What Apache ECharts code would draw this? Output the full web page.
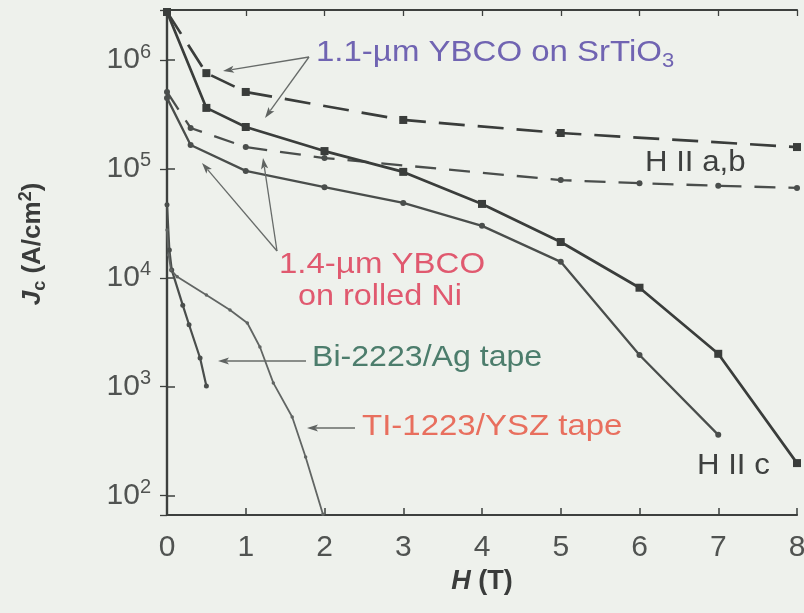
<!DOCTYPE html>
<html>
<head>
<meta charset="utf-8">
<script src="https://cdn.jsdelivr.net/npm/echarts@6/dist/echarts.min.js"></script>
<style>
  html, body { margin: 0; padding: 0; background: #eef1ec; }
  #chart { width: 804px; height: 613px; }
</style>
</head>
<body>
<div id="chart"></div>
<script>
// Critical current density Jc versus applied field H for coated conductors and tapes

// 1.1-µm YBCO on SrTiO3, field parallel to a,b (dashed)
const fieldStoAB = [0, 0.5, 1, 3, 5, 8];
const jcStoAB = [2.77e6, 7.6e5, 5.1e5, 2.82e5, 2.14e5, 1.59e5];

// 1.1-µm YBCO on SrTiO3, field parallel to c (solid)
const fieldStoC = [0, 0.5, 1, 2, 3, 4, 5, 6, 7, 8];
const jcStoC = [2.77e6, 3.64e5, 2.43e5, 1.46e5, 9.4e4, 4.77e4, 2.13e4, 8.1e3, 2.0e3, 198];

// 1.4-µm YBCO on rolled Ni, field parallel to a,b (dashed)
const fieldNiAB = [0, 0.3, 1, 2, 5, 6, 7, 8];
const jcNiAB = [5.1e5, 2.38e5, 1.59e5, 1.26e5, 7.9e4, 7.4e4, 7.0e4, 6.7e4];

// 1.4-µm YBCO on rolled Ni, field parallel to c (solid)
const fieldNiC = [0, 0.3, 1, 2, 3, 4, 5, 6, 7];
const jcNiC = [4.5e5, 1.66e5, 9.6e4, 6.8e4, 4.87e4, 3.0e4, 1.4e4, 1.95e3, 360];

// Bi-2223/Ag tape
const fieldBi = [0, 0.03, 0.06, 0.2, 0.28, 0.42, 0.5];
const jcBi = [4.7e4, 1.8e4, 1.18e4, 5.6e3, 3.7e3, 1.83e3, 1.01e3];

// Tl-1223/YSZ tape
const fieldTl = [0, 0.02, 0.05, 0.13, 0.5, 0.8, 1.02, 1.18, 1.35, 1.59, 1.76, 1.98];
const jcTl = [2.75e4, 1.62e4, 1.18e4, 1.02e4, 6.95e3, 5.06e3, 3.84e3, 2.31e3, 1.08e3, 525, 225, 67];

// Axis ranges and labelled decades
const fieldMin = 0, fieldMax = 8, fieldStep = 1;
const jcMin = 66, jcMax = 2.89e6;
const jcDecades = [2, 3, 4, 5, 6];

const FONT = '"Liberation Sans", Arial, Helvetica, sans-serif';
const lineDark = '#3a3d3b';
const lineMid = '#4a4e4c';
const lineLight = '#616563';
const frameColor = '#3d403e';
const tickText = '#505351';

function pairs(xs, ys) { return xs.map((x, i) => [x, ys[i]]); }

function arrow(x1, y1, x2, y2) {
  const len = 11, half = 3.6;
  const dx = x2 - x1, dy = y2 - y1;
  const d = Math.hypot(dx, dy);
  const ux = dx / d, uy = dy / d;
  const bx = x2 - ux * len, by = y2 - uy * len;
  return [
    { type: 'line', silent: true, z: 50,
      shape: { x1: x1, y1: y1, x2: bx + ux * 2, y2: by + uy * 2 },
      style: { stroke: '#676b69', lineWidth: 1.3 } },
    { type: 'polygon', silent: true, z: 50,
      shape: { points: [[x2, y2], [bx - uy * half, by + ux * half], [bx + ux * 2.5, by + uy * 2.5], [bx + uy * half, by - ux * half]] },
      style: { fill: '#5f6361' } }
  ];
}

function note(x, y, text, color, sx) {
  return {
    type: 'text', x: x, y: y, scaleX: sx || 1.08, z: 60, silent: true,
    style: {
      text: text, fill: color, textAlign: 'left',
      verticalAlign: 'middle', textVerticalAlign: 'middle',
      font: '30px ' + FONT,
      rich: {
        m: { fontSize: 30, fontFamily: FONT, lineHeight: 34 },
        sub: { fontSize: 20, fontFamily: FONT, padding: [16, 0, 0, 0] }
      }
    }
  };
}

const chart = echarts.init(document.getElementById('chart'));

const baseSeries = {
  type: 'line', animation: false, showAllSymbol: true, silent: true,
  label: { show: false }, emphasis: { disabled: true }
};

chart.setOption({
  backgroundColor: '#eef1ec',
  animation: false,
  grid: { left: 167, right: 7, top: 10, bottom: 98, show: false, outerBoundsMode: 'none', containLabel: false },
  xAxis: [
    {
      type: 'value', min: fieldMin, max: fieldMax, interval: fieldStep,
      position: 'bottom',
      axisLine: { lineStyle: { color: frameColor, width: 2.2 } },
      axisTick: { inside: true, length: 7, lineStyle: { color: frameColor, width: 1.5 } },
      splitLine: { show: false },
      axisLabel: { margin: 18, fontSize: 30, fontFamily: FONT, color: tickText },
      name: '{i|H}{n| (T)}',
      nameLocation: 'middle', nameGap: 52,
      nameTextStyle: {
        rich: {
          i: { fontSize: 27, fontFamily: FONT, fontWeight: 'bold', fontStyle: 'italic', color: '#3a3c3b' },
          n: { fontSize: 27, fontFamily: FONT, fontWeight: 'bold', color: '#3a3c3b' }
        }
      }
    },
    {
      type: 'value', min: fieldMin, max: fieldMax, interval: fieldStep,
      position: 'top',
      axisLine: { lineStyle: { color: frameColor, width: 2.2 } },
      axisTick: { inside: true, length: 6, lineStyle: { color: frameColor, width: 1.3 } },
      axisLabel: { show: false }, splitLine: { show: false }
    }
  ],
  yAxis: [
    {
      type: 'log', logBase: 10, min: jcMin, max: jcMax,
      position: 'left',
      axisLine: { show: true, lineStyle: { color: frameColor, width: 2.2 } },
      axisTick: { show: true, inside: true, length: 8, lineStyle: { color: frameColor, width: 1.5 } },
      splitLine: { show: false },
      axisLabel: {
        margin: 16,
        formatter: function (v) {
          const e = Math.log10(v);
          const r = Math.round(e);
          if (Math.abs(e - r) < 1e-6 && jcDecades.indexOf(r) >= 0) {
            return '{b|10}{s|' + r + '}';
          }
          return '';
        },
        rich: {
          b: { fontSize: 30, fontFamily: FONT, color: tickText, lineHeight: 32 },
          s: { fontSize: 20, fontFamily: FONT, color: tickText, padding: [0, 0, 16, 0] }
        }
      }
    },
    {
      type: 'log', logBase: 10, min: jcMin, max: jcMax,
      position: 'right',
      axisLine: { show: true, lineStyle: { color: frameColor, width: 2.2 } },
      axisTick: { show: true, inside: true, length: 7, lineStyle: { color: frameColor, width: 1.3 } },
      axisLabel: { show: false }, splitLine: { show: false }
    }
  ],
  series: [
    Object.assign({}, baseSeries, {
      name: '1.1-µm YBCO on SrTiO3, H ∥ a,b',
      data: pairs(fieldStoAB, jcStoAB), z: 5,
      symbol: 'rect', symbolSize: 8,
      itemStyle: { color: lineDark },
      lineStyle: { color: lineDark, width: 2.7, type: [26, 13] }
    }),
    Object.assign({}, baseSeries, {
      name: '1.1-µm YBCO on SrTiO3, H ∥ c',
      data: pairs(fieldStoC, jcStoC), z: 5,
      symbol: 'rect', symbolSize: 8,
      itemStyle: { color: lineDark },
      lineStyle: { color: lineDark, width: 2.7, type: 'solid' }
    }),
    Object.assign({}, baseSeries, {
      name: '1.4-µm YBCO on rolled Ni, H ∥ a,b',
      data: pairs(fieldNiAB, jcNiAB), z: 4,
      symbol: 'circle', symbolSize: 6,
      itemStyle: { color: lineMid },
      lineStyle: { color: lineMid, width: 2.3, type: [21, 13] }
    }),
    Object.assign({}, baseSeries, {
      name: '1.4-µm YBCO on rolled Ni, H ∥ c',
      data: pairs(fieldNiC, jcNiC), z: 4,
      symbol: 'circle', symbolSize: 6,
      itemStyle: { color: lineMid },
      lineStyle: { color: lineMid, width: 2.3, type: 'solid' }
    }),
    Object.assign({}, baseSeries, {
      name: 'Bi-2223/Ag tape',
      data: pairs(fieldBi, jcBi), z: 3,
      symbol: 'circle', symbolSize: 5,
      itemStyle: { color: lineMid },
      lineStyle: { color: lineMid, width: 2.2 }
    }),
    Object.assign({}, baseSeries, {
      name: 'Tl-1223/YSZ tape',
      data: pairs(fieldTl, jcTl), z: 3,
      symbol: 'circle', symbolSize: 3.5,
      itemStyle: { color: lineLight },
      lineStyle: { color: lineLight, width: 1.8 }
    })
  ],
  graphic: [].concat(
    // vertical axis title
    [{
      type: 'text', x: 33, y: 244, rotation: Math.PI / 2, z: 60, silent: true,
      style: {
        text: '{j|J}{c|c}{n| (A/cm}{p|2}{n|)}',
        fill: '#3a3c3b', textAlign: 'center',
        verticalAlign: 'middle', textVerticalAlign: 'middle',
        font: 'bold 26px ' + FONT,
        rich: {
          j: { fontSize: 26, fontFamily: FONT, fontWeight: 'bold', fontStyle: 'italic', lineHeight: 30 },
          c: { fontSize: 18, fontFamily: FONT, fontWeight: 'bold', padding: [14, 0, 0, 0] },
          n: { fontSize: 26, fontFamily: FONT, fontWeight: 'bold', lineHeight: 30 },
          p: { fontSize: 18, fontFamily: FONT, fontWeight: 'bold', padding: [0, 0, 14, 0] }
        }
      }
    }],
    // annotation texts
    [
      note(316, 53, '{m|1.1-µm YBCO on SrTiO}{sub|3}', '#7064b2', 1.1),
      note(645, 163, '{m|H II a,b}', '#3e403f', 1.04),
      note(279, 265, '{m|1.4-µm YBCO}', '#e0596f', 1.1),
      note(298, 297, '{m|on rolled Ni}', '#e0596f', 1.08),
      note(312, 358, '{m|Bi-2223/Ag tape}', '#4c7d6c', 1.07),
      note(362, 427, '{m|TI-1223/YSZ tape}', '#e86f5e', 1.1),
      note(697, 466, '{m|H II c}', '#3e403f', 1.04)
    ],
    // pointer arrows
    arrow(309, 57, 223, 71),
    arrow(309, 57, 265, 118),
    arrow(277, 251, 202, 163),
    arrow(277, 251, 263, 158),
    arrow(306, 361, 218, 361),
    arrow(355, 428, 307, 428)
  )
});
</script>
</body>
</html>
